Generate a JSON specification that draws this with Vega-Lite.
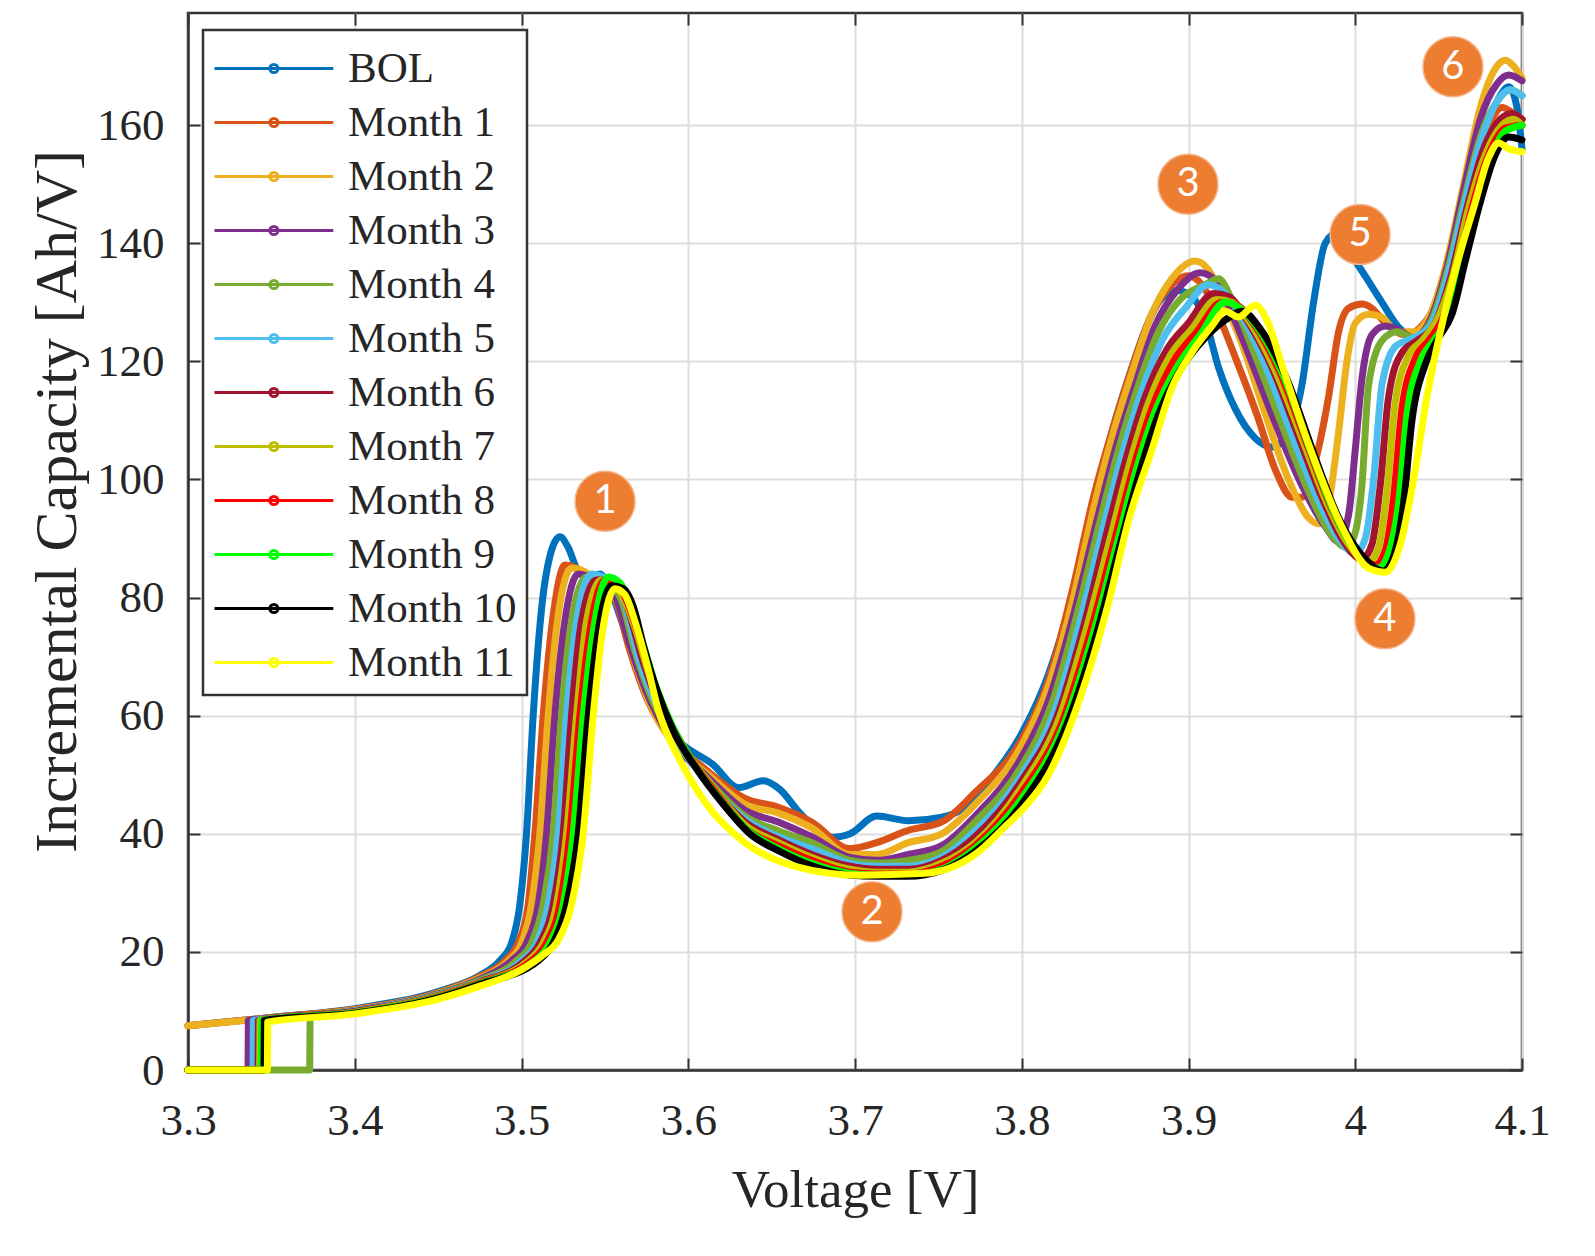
{
  "$schema": "https://vega.github.io/schema/vega-lite/v6.json",
  "width": 1334,
  "height": 1057,
  "autosize": "none",
  "padding": {"left": 188, "top": 13, "right": 73, "bottom": 186},
  "background": "white",
  "datasets": {
    "ic": [
      {"s":"BOL","v":3.3,"c":7.5},{"s":"BOL","v":3.35,"c":8.9},{"s":"BOL","v":3.4,"c":10.4},{"s":"BOL","v":3.45,"c":13.3},{"s":"BOL","v":3.475,"c":16},{"s":"BOL","v":3.487,"c":18.5},{"s":"BOL","v":3.494,"c":21.5},{"s":"BOL","v":3.499,"c":28},{"s":"BOL","v":3.503,"c":40},{"s":"BOL","v":3.507,"c":60},{"s":"BOL","v":3.512,"c":78},{"s":"BOL","v":3.518,"c":88},{"s":"BOL","v":3.523,"c":90.3},{"s":"BOL","v":3.528,"c":88.5},{"s":"BOL","v":3.534,"c":84.5},{"s":"BOL","v":3.541,"c":83.5},{"s":"BOL","v":3.547,"c":84},{"s":"BOL","v":3.553,"c":81.5},{"s":"BOL","v":3.56,"c":76},{"s":"BOL","v":3.57,"c":67},{"s":"BOL","v":3.58,"c":60.5},{"s":"BOL","v":3.595,"c":55.5},{"s":"BOL","v":3.615,"c":51.7},{"s":"BOL","v":3.63,"c":47.8},{"s":"BOL","v":3.645,"c":49},{"s":"BOL","v":3.655,"c":47.5},{"s":"BOL","v":3.667,"c":43.5},{"s":"BOL","v":3.687,"c":39.4},{"s":"BOL","v":3.697,"c":40},{"s":"BOL","v":3.713,"c":43},{"s":"BOL","v":3.732,"c":42.2},{"s":"BOL","v":3.752,"c":42.8},{"s":"BOL","v":3.766,"c":44.5},{"s":"BOL","v":3.782,"c":49.5},{"s":"BOL","v":3.8,"c":57},{"s":"BOL","v":3.816,"c":67},{"s":"BOL","v":3.83,"c":80},{"s":"BOL","v":3.843,"c":96},{"s":"BOL","v":3.855,"c":109},{"s":"BOL","v":3.865,"c":118},{"s":"BOL","v":3.875,"c":126},{"s":"BOL","v":3.882,"c":130},{"s":"BOL","v":3.893,"c":132},{"s":"BOL","v":3.902,"c":131},{"s":"BOL","v":3.91,"c":127},{"s":"BOL","v":3.918,"c":119},{"s":"BOL","v":3.928,"c":112},{"s":"BOL","v":3.94,"c":107},{"s":"BOL","v":3.95,"c":105.5},{"s":"BOL","v":3.96,"c":108},{"s":"BOL","v":3.968,"c":116},{"s":"BOL","v":3.975,"c":130},{"s":"BOL","v":3.982,"c":140},{"s":"BOL","v":3.99,"c":142},{"s":"BOL","v":3.998,"c":138},{"s":"BOL","v":4.007,"c":134},{"s":"BOL","v":4.016,"c":130},{"s":"BOL","v":4.027,"c":125.5},{"s":"BOL","v":4.035,"c":124.5},{"s":"BOL","v":4.045,"c":127},{"s":"BOL","v":4.055,"c":135},{"s":"BOL","v":4.065,"c":145},{"s":"BOL","v":4.075,"c":156},{"s":"BOL","v":4.085,"c":164},{"s":"BOL","v":4.092,"c":166.5},{"s":"BOL","v":4.097,"c":163},{"s":"BOL","v":4.1,"c":156},

      {"s":"Month 1","v":3.3,"c":7.5},{"s":"Month 1","v":3.35,"c":8.9},{"s":"Month 1","v":3.4,"c":10.3},{"s":"Month 1","v":3.45,"c":13.1},{"s":"Month 1","v":3.475,"c":15.8},{"s":"Month 1","v":3.49,"c":18.5},{"s":"Month 1","v":3.498,"c":21.5},{"s":"Month 1","v":3.504,"c":28},{"s":"Month 1","v":3.508,"c":40},{"s":"Month 1","v":3.513,"c":60},{"s":"Month 1","v":3.519,"c":77},{"s":"Month 1","v":3.526,"c":85.5},{"s":"Month 1","v":3.533,"c":85},{"s":"Month 1","v":3.54,"c":83.5},{"s":"Month 1","v":3.548,"c":83},{"s":"Month 1","v":3.556,"c":80},{"s":"Month 1","v":3.565,"c":71},{"s":"Month 1","v":3.575,"c":63},{"s":"Month 1","v":3.59,"c":56},{"s":"Month 1","v":3.61,"c":51},{"s":"Month 1","v":3.634,"c":46},{"s":"Month 1","v":3.654,"c":44.5},{"s":"Month 1","v":3.674,"c":42},{"s":"Month 1","v":3.697,"c":37.5},{"s":"Month 1","v":3.713,"c":38.5},{"s":"Month 1","v":3.732,"c":40.6},{"s":"Month 1","v":3.752,"c":42},{"s":"Month 1","v":3.772,"c":47},{"s":"Month 1","v":3.8,"c":56},{"s":"Month 1","v":3.816,"c":66},{"s":"Month 1","v":3.831,"c":82},{"s":"Month 1","v":3.843,"c":97},{"s":"Month 1","v":3.855,"c":109},{"s":"Month 1","v":3.865,"c":118},{"s":"Month 1","v":3.878,"c":128},{"s":"Month 1","v":3.89,"c":133},{"s":"Month 1","v":3.9,"c":134.5},{"s":"Month 1","v":3.908,"c":133},{"s":"Month 1","v":3.916,"c":129},{"s":"Month 1","v":3.929,"c":120},{"s":"Month 1","v":3.941,"c":111},{"s":"Month 1","v":3.953,"c":101},{"s":"Month 1","v":3.962,"c":97},{"s":"Month 1","v":3.968,"c":97},{"s":"Month 1","v":3.975,"c":102},{"s":"Month 1","v":3.984,"c":114},{"s":"Month 1","v":3.99,"c":125},{"s":"Month 1","v":3.996,"c":129},{"s":"Month 1","v":4.004,"c":129.7},{"s":"Month 1","v":4.01,"c":129},{"s":"Month 1","v":4.018,"c":126.5},{"s":"Month 1","v":4.03,"c":124.5},{"s":"Month 1","v":4.04,"c":126},{"s":"Month 1","v":4.05,"c":131},{"s":"Month 1","v":4.06,"c":141},{"s":"Month 1","v":4.07,"c":153},{"s":"Month 1","v":4.08,"c":160},{"s":"Month 1","v":4.088,"c":163},{"s":"Month 1","v":4.095,"c":162},{"s":"Month 1","v":4.1,"c":161},

      {"s":"Month 2","v":3.3,"c":7.5},{"s":"Month 2","v":3.35,"c":8.8},{"s":"Month 2","v":3.4,"c":10.2},{"s":"Month 2","v":3.45,"c":13},{"s":"Month 2","v":3.475,"c":15.6},{"s":"Month 2","v":3.492,"c":18.5},{"s":"Month 2","v":3.5,"c":21.5},{"s":"Month 2","v":3.506,"c":28},{"s":"Month 2","v":3.511,"c":40},{"s":"Month 2","v":3.516,"c":60},{"s":"Month 2","v":3.522,"c":77},{"s":"Month 2","v":3.53,"c":85},{"s":"Month 2","v":3.537,"c":84.5},{"s":"Month 2","v":3.545,"c":83},{"s":"Month 2","v":3.552,"c":82},{"s":"Month 2","v":3.558,"c":79},{"s":"Month 2","v":3.567,"c":70},{"s":"Month 2","v":3.577,"c":62},{"s":"Month 2","v":3.592,"c":55},{"s":"Month 2","v":3.612,"c":50},{"s":"Month 2","v":3.634,"c":45},{"s":"Month 2","v":3.654,"c":43.5},{"s":"Month 2","v":3.674,"c":41},{"s":"Month 2","v":3.697,"c":36.5},{"s":"Month 2","v":3.713,"c":36.5},{"s":"Month 2","v":3.732,"c":38.5},{"s":"Month 2","v":3.752,"c":40},{"s":"Month 2","v":3.772,"c":45},{"s":"Month 2","v":3.8,"c":55},{"s":"Month 2","v":3.816,"c":65},{"s":"Month 2","v":3.831,"c":80},{"s":"Month 2","v":3.843,"c":95},{"s":"Month 2","v":3.855,"c":108},{"s":"Month 2","v":3.866,"c":118},{"s":"Month 2","v":3.878,"c":128},{"s":"Month 2","v":3.89,"c":134},{"s":"Month 2","v":3.904,"c":137},{"s":"Month 2","v":3.912,"c":135.5},{"s":"Month 2","v":3.92,"c":131},{"s":"Month 2","v":3.932,"c":123},{"s":"Month 2","v":3.945,"c":112},{"s":"Month 2","v":3.96,"c":100},{"s":"Month 2","v":3.972,"c":93.5},{"s":"Month 2","v":3.978,"c":92.5},{"s":"Month 2","v":3.984,"c":96},{"s":"Month 2","v":3.99,"c":108},{"s":"Month 2","v":3.995,"c":120},{"s":"Month 2","v":4.0,"c":126.5},{"s":"Month 2","v":4.008,"c":128},{"s":"Month 2","v":4.016,"c":127.5},{"s":"Month 2","v":4.025,"c":125},{"s":"Month 2","v":4.035,"c":125},{"s":"Month 2","v":4.045,"c":128},{"s":"Month 2","v":4.055,"c":137},{"s":"Month 2","v":4.065,"c":150},{"s":"Month 2","v":4.075,"c":163},{"s":"Month 2","v":4.085,"c":170},{"s":"Month 2","v":4.09,"c":171},{"s":"Month 2","v":4.095,"c":170},{"s":"Month 2","v":4.1,"c":168},

      {"s":"Month 3","v":3.3,"c":0},{"s":"Month 3","v":3.336,"c":0},{"s":"Month 3","v":3.3362,"c":8.4},{"s":"Month 3","v":3.35,"c":8.8},{"s":"Month 3","v":3.4,"c":10.1},{"s":"Month 3","v":3.45,"c":12.9},{"s":"Month 3","v":3.475,"c":15.4},{"s":"Month 3","v":3.494,"c":18.5},{"s":"Month 3","v":3.503,"c":21.5},{"s":"Month 3","v":3.51,"c":28},{"s":"Month 3","v":3.515,"c":40},{"s":"Month 3","v":3.52,"c":60},{"s":"Month 3","v":3.526,"c":76},{"s":"Month 3","v":3.534,"c":84},{"s":"Month 3","v":3.541,"c":83.5},{"s":"Month 3","v":3.549,"c":82.5},{"s":"Month 3","v":3.556,"c":80.5},{"s":"Month 3","v":3.565,"c":72},{"s":"Month 3","v":3.575,"c":64},{"s":"Month 3","v":3.59,"c":56},{"s":"Month 3","v":3.612,"c":49.5},{"s":"Month 3","v":3.634,"c":44},{"s":"Month 3","v":3.654,"c":42},{"s":"Month 3","v":3.674,"c":39.5},{"s":"Month 3","v":3.697,"c":36},{"s":"Month 3","v":3.713,"c":35.5},{"s":"Month 3","v":3.732,"c":36.5},{"s":"Month 3","v":3.752,"c":38},{"s":"Month 3","v":3.772,"c":43},{"s":"Month 3","v":3.8,"c":53},{"s":"Month 3","v":3.816,"c":62.5},{"s":"Month 3","v":3.831,"c":77},{"s":"Month 3","v":3.845,"c":93},{"s":"Month 3","v":3.857,"c":106},{"s":"Month 3","v":3.868,"c":116},{"s":"Month 3","v":3.88,"c":126},{"s":"Month 3","v":3.893,"c":132},{"s":"Month 3","v":3.907,"c":135},{"s":"Month 3","v":3.915,"c":134},{"s":"Month 3","v":3.923,"c":130},{"s":"Month 3","v":3.935,"c":122},{"s":"Month 3","v":3.95,"c":111},{"s":"Month 3","v":3.968,"c":99},{"s":"Month 3","v":3.982,"c":92},{"s":"Month 3","v":3.99,"c":89.5},{"s":"Month 3","v":3.996,"c":94},{"s":"Month 3","v":4.0,"c":105},{"s":"Month 3","v":4.004,"c":117},{"s":"Month 3","v":4.01,"c":124.5},{"s":"Month 3","v":4.018,"c":126},{"s":"Month 3","v":4.025,"c":125.5},{"s":"Month 3","v":4.035,"c":124},{"s":"Month 3","v":4.045,"c":127},{"s":"Month 3","v":4.055,"c":136},{"s":"Month 3","v":4.065,"c":149},{"s":"Month 3","v":4.075,"c":161},{"s":"Month 3","v":4.085,"c":167},{"s":"Month 3","v":4.092,"c":168.5},{"s":"Month 3","v":4.1,"c":167.5},

      {"s":"Month 4","v":3.3,"c":0},{"s":"Month 4","v":3.373,"c":0},{"s":"Month 4","v":3.3732,"c":9.2},{"s":"Month 4","v":3.4,"c":10},{"s":"Month 4","v":3.45,"c":12.8},{"s":"Month 4","v":3.475,"c":15.2},{"s":"Month 4","v":3.497,"c":18.5},{"s":"Month 4","v":3.506,"c":21.5},{"s":"Month 4","v":3.513,"c":28},{"s":"Month 4","v":3.519,"c":40},{"s":"Month 4","v":3.524,"c":60},{"s":"Month 4","v":3.53,"c":76},{"s":"Month 4","v":3.539,"c":83.5},{"s":"Month 4","v":3.546,"c":83.5},{"s":"Month 4","v":3.553,"c":82.5},{"s":"Month 4","v":3.56,"c":79.5},{"s":"Month 4","v":3.568,"c":71},{"s":"Month 4","v":3.578,"c":63},{"s":"Month 4","v":3.593,"c":55.5},{"s":"Month 4","v":3.612,"c":49},{"s":"Month 4","v":3.634,"c":43},{"s":"Month 4","v":3.654,"c":40.5},{"s":"Month 4","v":3.674,"c":38.5},{"s":"Month 4","v":3.697,"c":35.5},{"s":"Month 4","v":3.713,"c":35},{"s":"Month 4","v":3.732,"c":35.5},{"s":"Month 4","v":3.752,"c":37},{"s":"Month 4","v":3.772,"c":42},{"s":"Month 4","v":3.8,"c":51.5},{"s":"Month 4","v":3.818,"c":62},{"s":"Month 4","v":3.833,"c":77},{"s":"Month 4","v":3.847,"c":93},{"s":"Month 4","v":3.859,"c":106},{"s":"Month 4","v":3.87,"c":116},{"s":"Month 4","v":3.882,"c":125},{"s":"Month 4","v":3.895,"c":130.5},{"s":"Month 4","v":3.91,"c":133},{"s":"Month 4","v":3.918,"c":134},{"s":"Month 4","v":3.926,"c":130.5},{"s":"Month 4","v":3.94,"c":121},{"s":"Month 4","v":3.955,"c":110},{"s":"Month 4","v":3.972,"c":98},{"s":"Month 4","v":3.986,"c":90.5},{"s":"Month 4","v":3.995,"c":88.5},{"s":"Month 4","v":4.0,"c":91},{"s":"Month 4","v":4.004,"c":99},{"s":"Month 4","v":4.008,"c":116},{"s":"Month 4","v":4.016,"c":123.5},{"s":"Month 4","v":4.025,"c":125},{"s":"Month 4","v":4.035,"c":124},{"s":"Month 4","v":4.045,"c":126.5},{"s":"Month 4","v":4.055,"c":135},{"s":"Month 4","v":4.065,"c":147},{"s":"Month 4","v":4.075,"c":158},{"s":"Month 4","v":4.085,"c":164},{"s":"Month 4","v":4.093,"c":166},{"s":"Month 4","v":4.1,"c":165},

      {"s":"Month 5","v":3.3,"c":0},{"s":"Month 5","v":3.339,"c":0},{"s":"Month 5","v":3.3392,"c":8.4},{"s":"Month 5","v":3.35,"c":8.7},{"s":"Month 5","v":3.4,"c":10},{"s":"Month 5","v":3.45,"c":12.7},{"s":"Month 5","v":3.475,"c":15},{"s":"Month 5","v":3.5,"c":18.5},{"s":"Month 5","v":3.509,"c":21.5},{"s":"Month 5","v":3.516,"c":28},{"s":"Month 5","v":3.522,"c":40},{"s":"Month 5","v":3.527,"c":60},{"s":"Month 5","v":3.533,"c":76},{"s":"Month 5","v":3.542,"c":84},{"s":"Month 5","v":3.549,"c":83.5},{"s":"Month 5","v":3.556,"c":82.5},{"s":"Month 5","v":3.562,"c":79},{"s":"Month 5","v":3.57,"c":70},{"s":"Month 5","v":3.58,"c":62.5},{"s":"Month 5","v":3.595,"c":55},{"s":"Month 5","v":3.612,"c":48.5},{"s":"Month 5","v":3.634,"c":42.5},{"s":"Month 5","v":3.654,"c":39.5},{"s":"Month 5","v":3.674,"c":37.5},{"s":"Month 5","v":3.697,"c":35},{"s":"Month 5","v":3.713,"c":34.5},{"s":"Month 5","v":3.732,"c":34.5},{"s":"Month 5","v":3.752,"c":36},{"s":"Month 5","v":3.772,"c":40.5},{"s":"Month 5","v":3.8,"c":50},{"s":"Month 5","v":3.82,"c":61},{"s":"Month 5","v":3.835,"c":76},{"s":"Month 5","v":3.849,"c":92},{"s":"Month 5","v":3.861,"c":105},{"s":"Month 5","v":3.872,"c":115},{"s":"Month 5","v":3.885,"c":124},{"s":"Month 5","v":3.898,"c":129},{"s":"Month 5","v":3.912,"c":133},{"s":"Month 5","v":3.92,"c":132},{"s":"Month 5","v":3.93,"c":128.5},{"s":"Month 5","v":3.945,"c":120},{"s":"Month 5","v":3.96,"c":109},{"s":"Month 5","v":3.977,"c":97},{"s":"Month 5","v":3.99,"c":90},{"s":"Month 5","v":4.0,"c":87.5},{"s":"Month 5","v":4.006,"c":90},{"s":"Month 5","v":4.011,"c":100},{"s":"Month 5","v":4.016,"c":116},{"s":"Month 5","v":4.024,"c":122.5},{"s":"Month 5","v":4.035,"c":124},{"s":"Month 5","v":4.045,"c":126},{"s":"Month 5","v":4.055,"c":134},{"s":"Month 5","v":4.065,"c":146},{"s":"Month 5","v":4.075,"c":157},{"s":"Month 5","v":4.085,"c":164},{"s":"Month 5","v":4.093,"c":166},{"s":"Month 5","v":4.1,"c":165},

      {"s":"Month 6","v":3.3,"c":0},{"s":"Month 6","v":3.342,"c":0},{"s":"Month 6","v":3.3422,"c":8.4},{"s":"Month 6","v":3.4,"c":9.9},{"s":"Month 6","v":3.45,"c":12.6},{"s":"Month 6","v":3.475,"c":14.9},{"s":"Month 6","v":3.502,"c":18.5},{"s":"Month 6","v":3.511,"c":21.5},{"s":"Month 6","v":3.519,"c":28},{"s":"Month 6","v":3.525,"c":40},{"s":"Month 6","v":3.53,"c":60},{"s":"Month 6","v":3.536,"c":76},{"s":"Month 6","v":3.545,"c":83},{"s":"Month 6","v":3.552,"c":83},{"s":"Month 6","v":3.559,"c":81.5},{"s":"Month 6","v":3.565,"c":77},{"s":"Month 6","v":3.573,"c":69},{"s":"Month 6","v":3.583,"c":61.5},{"s":"Month 6","v":3.597,"c":54.5},{"s":"Month 6","v":3.614,"c":48},{"s":"Month 6","v":3.634,"c":42},{"s":"Month 6","v":3.654,"c":39},{"s":"Month 6","v":3.674,"c":36.5},{"s":"Month 6","v":3.697,"c":34.5},{"s":"Month 6","v":3.713,"c":34},{"s":"Month 6","v":3.732,"c":34},{"s":"Month 6","v":3.752,"c":35.5},{"s":"Month 6","v":3.772,"c":39.5},{"s":"Month 6","v":3.8,"c":49},{"s":"Month 6","v":3.822,"c":60.5},{"s":"Month 6","v":3.837,"c":75},{"s":"Month 6","v":3.851,"c":91},{"s":"Month 6","v":3.863,"c":104},{"s":"Month 6","v":3.874,"c":114},{"s":"Month 6","v":3.887,"c":122},{"s":"Month 6","v":3.9,"c":126.5},{"s":"Month 6","v":3.915,"c":131.5},{"s":"Month 6","v":3.924,"c":131},{"s":"Month 6","v":3.935,"c":127},{"s":"Month 6","v":3.95,"c":119},{"s":"Month 6","v":3.965,"c":108},{"s":"Month 6","v":3.98,"c":97},{"s":"Month 6","v":3.993,"c":89.5},{"s":"Month 6","v":4.004,"c":86.5},{"s":"Month 6","v":4.01,"c":89},{"s":"Month 6","v":4.015,"c":99},{"s":"Month 6","v":4.02,"c":114},{"s":"Month 6","v":4.028,"c":121.5},{"s":"Month 6","v":4.037,"c":123.5},{"s":"Month 6","v":4.047,"c":126},{"s":"Month 6","v":4.057,"c":134},{"s":"Month 6","v":4.067,"c":146},{"s":"Month 6","v":4.077,"c":156},{"s":"Month 6","v":4.087,"c":161},{"s":"Month 6","v":4.094,"c":162},{"s":"Month 6","v":4.1,"c":161},

      {"s":"Month 7","v":3.3,"c":0},{"s":"Month 7","v":3.343,"c":0},{"s":"Month 7","v":3.3432,"c":8.4},{"s":"Month 7","v":3.4,"c":9.8},{"s":"Month 7","v":3.45,"c":12.5},{"s":"Month 7","v":3.475,"c":14.8},{"s":"Month 7","v":3.504,"c":18.5},{"s":"Month 7","v":3.513,"c":21.5},{"s":"Month 7","v":3.521,"c":28},{"s":"Month 7","v":3.527,"c":40},{"s":"Month 7","v":3.533,"c":60},{"s":"Month 7","v":3.539,"c":76},{"s":"Month 7","v":3.548,"c":83},{"s":"Month 7","v":3.555,"c":82.5},{"s":"Month 7","v":3.561,"c":80},{"s":"Month 7","v":3.568,"c":75},{"s":"Month 7","v":3.576,"c":67.5},{"s":"Month 7","v":3.586,"c":60.5},{"s":"Month 7","v":3.6,"c":53.5},{"s":"Month 7","v":3.616,"c":47.5},{"s":"Month 7","v":3.634,"c":41.5},{"s":"Month 7","v":3.654,"c":38.5},{"s":"Month 7","v":3.674,"c":36},{"s":"Month 7","v":3.697,"c":34},{"s":"Month 7","v":3.713,"c":33.5},{"s":"Month 7","v":3.732,"c":33.5},{"s":"Month 7","v":3.752,"c":35},{"s":"Month 7","v":3.772,"c":38.5},{"s":"Month 7","v":3.8,"c":48},{"s":"Month 7","v":3.823,"c":60},{"s":"Month 7","v":3.839,"c":75},{"s":"Month 7","v":3.853,"c":90},{"s":"Month 7","v":3.865,"c":103},{"s":"Month 7","v":3.876,"c":113},{"s":"Month 7","v":3.889,"c":121},{"s":"Month 7","v":3.902,"c":125.5},{"s":"Month 7","v":3.917,"c":130.5},{"s":"Month 7","v":3.926,"c":130},{"s":"Month 7","v":3.937,"c":126.5},{"s":"Month 7","v":3.952,"c":118.5},{"s":"Month 7","v":3.968,"c":107},{"s":"Month 7","v":3.983,"c":96},{"s":"Month 7","v":3.996,"c":89},{"s":"Month 7","v":4.008,"c":86},{"s":"Month 7","v":4.014,"c":88.5},{"s":"Month 7","v":4.019,"c":98},{"s":"Month 7","v":4.024,"c":113},{"s":"Month 7","v":4.032,"c":121},{"s":"Month 7","v":4.04,"c":123.5},{"s":"Month 7","v":4.049,"c":127},{"s":"Month 7","v":4.058,"c":134},{"s":"Month 7","v":4.068,"c":146},{"s":"Month 7","v":4.078,"c":155},{"s":"Month 7","v":4.088,"c":160},{"s":"Month 7","v":4.095,"c":161},{"s":"Month 7","v":4.1,"c":160},

      {"s":"Month 8","v":3.3,"c":0},{"s":"Month 8","v":3.345,"c":0},{"s":"Month 8","v":3.3452,"c":8.4},{"s":"Month 8","v":3.4,"c":9.7},{"s":"Month 8","v":3.45,"c":12.4},{"s":"Month 8","v":3.475,"c":14.7},{"s":"Month 8","v":3.506,"c":18.5},{"s":"Month 8","v":3.515,"c":21.5},{"s":"Month 8","v":3.523,"c":28},{"s":"Month 8","v":3.529,"c":40},{"s":"Month 8","v":3.535,"c":60},{"s":"Month 8","v":3.542,"c":76},{"s":"Month 8","v":3.55,"c":83},{"s":"Month 8","v":3.557,"c":82.5},{"s":"Month 8","v":3.563,"c":79.5},{"s":"Month 8","v":3.57,"c":74},{"s":"Month 8","v":3.578,"c":66.5},{"s":"Month 8","v":3.588,"c":59.5},{"s":"Month 8","v":3.602,"c":52.5},{"s":"Month 8","v":3.618,"c":46.5},{"s":"Month 8","v":3.634,"c":41},{"s":"Month 8","v":3.654,"c":38},{"s":"Month 8","v":3.674,"c":35.5},{"s":"Month 8","v":3.697,"c":33.5},{"s":"Month 8","v":3.713,"c":33.2},{"s":"Month 8","v":3.732,"c":33.2},{"s":"Month 8","v":3.752,"c":34.5},{"s":"Month 8","v":3.772,"c":38},{"s":"Month 8","v":3.8,"c":47},{"s":"Month 8","v":3.825,"c":59.5},{"s":"Month 8","v":3.841,"c":74},{"s":"Month 8","v":3.855,"c":89},{"s":"Month 8","v":3.867,"c":102},{"s":"Month 8","v":3.878,"c":112},{"s":"Month 8","v":3.891,"c":120},{"s":"Month 8","v":3.905,"c":125},{"s":"Month 8","v":3.92,"c":130},{"s":"Month 8","v":3.929,"c":129.5},{"s":"Month 8","v":3.94,"c":126},{"s":"Month 8","v":3.955,"c":118},{"s":"Month 8","v":3.971,"c":106},{"s":"Month 8","v":3.986,"c":95},{"s":"Month 8","v":3.999,"c":88.5},{"s":"Month 8","v":4.012,"c":85.5},{"s":"Month 8","v":4.018,"c":88},{"s":"Month 8","v":4.023,"c":97},{"s":"Month 8","v":4.028,"c":112},{"s":"Month 8","v":4.036,"c":120.5},{"s":"Month 8","v":4.044,"c":123.5},{"s":"Month 8","v":4.052,"c":127},{"s":"Month 8","v":4.06,"c":134},{"s":"Month 8","v":4.07,"c":146},{"s":"Month 8","v":4.08,"c":155},{"s":"Month 8","v":4.09,"c":159.5},{"s":"Month 8","v":4.1,"c":160},

      {"s":"Month 9","v":3.3,"c":0},{"s":"Month 9","v":3.344,"c":0},{"s":"Month 9","v":3.3442,"c":8.4},{"s":"Month 9","v":3.4,"c":9.7},{"s":"Month 9","v":3.45,"c":12.3},{"s":"Month 9","v":3.475,"c":14.6},{"s":"Month 9","v":3.508,"c":18.5},{"s":"Month 9","v":3.517,"c":21.5},{"s":"Month 9","v":3.525,"c":28},{"s":"Month 9","v":3.531,"c":40},{"s":"Month 9","v":3.537,"c":60},{"s":"Month 9","v":3.544,"c":76},{"s":"Month 9","v":3.552,"c":83.5},{"s":"Month 9","v":3.559,"c":82.5},{"s":"Month 9","v":3.565,"c":79},{"s":"Month 9","v":3.572,"c":73},{"s":"Month 9","v":3.58,"c":65.5},{"s":"Month 9","v":3.59,"c":58.5},{"s":"Month 9","v":3.604,"c":51.5},{"s":"Month 9","v":3.62,"c":45.5},{"s":"Month 9","v":3.636,"c":40.5},{"s":"Month 9","v":3.654,"c":37.5},{"s":"Month 9","v":3.674,"c":35},{"s":"Month 9","v":3.697,"c":33.3},{"s":"Month 9","v":3.713,"c":33},{"s":"Month 9","v":3.732,"c":33},{"s":"Month 9","v":3.752,"c":34},{"s":"Month 9","v":3.772,"c":37.5},{"s":"Month 9","v":3.8,"c":46},{"s":"Month 9","v":3.826,"c":59},{"s":"Month 9","v":3.843,"c":74},{"s":"Month 9","v":3.857,"c":89},{"s":"Month 9","v":3.869,"c":102},{"s":"Month 9","v":3.88,"c":111.5},{"s":"Month 9","v":3.893,"c":119},{"s":"Month 9","v":3.907,"c":124.5},{"s":"Month 9","v":3.922,"c":130},{"s":"Month 9","v":3.931,"c":129},{"s":"Month 9","v":3.942,"c":125.5},{"s":"Month 9","v":3.957,"c":117.5},{"s":"Month 9","v":3.973,"c":105},{"s":"Month 9","v":3.988,"c":94},{"s":"Month 9","v":4.0,"c":88},{"s":"Month 9","v":4.014,"c":85},{"s":"Month 9","v":4.02,"c":87.5},{"s":"Month 9","v":4.026,"c":96},{"s":"Month 9","v":4.031,"c":111},{"s":"Month 9","v":4.039,"c":120},{"s":"Month 9","v":4.047,"c":123.5},{"s":"Month 9","v":4.055,"c":127},{"s":"Month 9","v":4.063,"c":135},{"s":"Month 9","v":4.072,"c":146},{"s":"Month 9","v":4.082,"c":155},{"s":"Month 9","v":4.09,"c":159},{"s":"Month 9","v":4.1,"c":160},

      {"s":"Month 10","v":3.3,"c":0},{"s":"Month 10","v":3.3456,"c":0},{"s":"Month 10","v":3.3458,"c":8.4},{"s":"Month 10","v":3.4,"c":9.6},{"s":"Month 10","v":3.45,"c":12.2},{"s":"Month 10","v":3.475,"c":14.5},{"s":"Month 10","v":3.51,"c":18.5},{"s":"Month 10","v":3.519,"c":21.5},{"s":"Month 10","v":3.527,"c":28},{"s":"Month 10","v":3.534,"c":40},{"s":"Month 10","v":3.54,"c":60},{"s":"Month 10","v":3.547,"c":76},{"s":"Month 10","v":3.554,"c":82},{"s":"Month 10","v":3.561,"c":81.5},{"s":"Month 10","v":3.567,"c":78.5},{"s":"Month 10","v":3.573,"c":72},{"s":"Month 10","v":3.581,"c":64.5},{"s":"Month 10","v":3.591,"c":57.5},{"s":"Month 10","v":3.605,"c":51},{"s":"Month 10","v":3.621,"c":45},{"s":"Month 10","v":3.637,"c":40},{"s":"Month 10","v":3.655,"c":37},{"s":"Month 10","v":3.675,"c":34.5},{"s":"Month 10","v":3.697,"c":33},{"s":"Month 10","v":3.713,"c":32.8},{"s":"Month 10","v":3.732,"c":32.8},{"s":"Month 10","v":3.752,"c":33.8},{"s":"Month 10","v":3.772,"c":37},{"s":"Month 10","v":3.8,"c":45},{"s":"Month 10","v":3.827,"c":58.5},{"s":"Month 10","v":3.845,"c":74},{"s":"Month 10","v":3.859,"c":89},{"s":"Month 10","v":3.871,"c":101.5},{"s":"Month 10","v":3.882,"c":111},{"s":"Month 10","v":3.895,"c":118.5},{"s":"Month 10","v":3.91,"c":124},{"s":"Month 10","v":3.922,"c":127},{"s":"Month 10","v":3.932,"c":128.5},{"s":"Month 10","v":3.943,"c":125.5},{"s":"Month 10","v":3.959,"c":117},{"s":"Month 10","v":3.975,"c":104.5},{"s":"Month 10","v":3.99,"c":93.5},{"s":"Month 10","v":4.003,"c":87.5},{"s":"Month 10","v":4.017,"c":84.5},{"s":"Month 10","v":4.023,"c":87},{"s":"Month 10","v":4.029,"c":96},{"s":"Month 10","v":4.034,"c":110},{"s":"Month 10","v":4.042,"c":119.5},{"s":"Month 10","v":4.05,"c":124},{"s":"Month 10","v":4.058,"c":128},{"s":"Month 10","v":4.066,"c":137},{"s":"Month 10","v":4.075,"c":147},{"s":"Month 10","v":4.084,"c":155},{"s":"Month 10","v":4.092,"c":158},{"s":"Month 10","v":4.1,"c":157.5},

      {"s":"Month 11","v":3.3,"c":0},{"s":"Month 11","v":3.3476,"c":0},{"s":"Month 11","v":3.3478,"c":8.1},{"s":"Month 11","v":3.4,"c":9.5},{"s":"Month 11","v":3.45,"c":12},{"s":"Month 11","v":3.475,"c":14.2},{"s":"Month 11","v":3.5,"c":17},{"s":"Month 11","v":3.513,"c":19.5},{"s":"Month 11","v":3.522,"c":22},{"s":"Month 11","v":3.53,"c":28},{"s":"Month 11","v":3.537,"c":40},{"s":"Month 11","v":3.543,"c":60},{"s":"Month 11","v":3.549,"c":75},{"s":"Month 11","v":3.556,"c":81.5},{"s":"Month 11","v":3.562,"c":80.5},{"s":"Month 11","v":3.568,"c":76},{"s":"Month 11","v":3.575,"c":69},{"s":"Month 11","v":3.582,"c":61},{"s":"Month 11","v":3.595,"c":52.5},{"s":"Month 11","v":3.611,"c":45},{"s":"Month 11","v":3.634,"c":38.5},{"s":"Month 11","v":3.664,"c":34.5},{"s":"Month 11","v":3.703,"c":33},{"s":"Month 11","v":3.742,"c":33.3},{"s":"Month 11","v":3.772,"c":36.5},{"s":"Month 11","v":3.791,"c":41.5},{"s":"Month 11","v":3.8,"c":44},{"s":"Month 11","v":3.816,"c":50},{"s":"Month 11","v":3.835,"c":63},{"s":"Month 11","v":3.851,"c":78},{"s":"Month 11","v":3.865,"c":94},{"s":"Month 11","v":3.878,"c":105},{"s":"Month 11","v":3.89,"c":115.5},{"s":"Month 11","v":3.902,"c":121.5},{"s":"Month 11","v":3.914,"c":126},{"s":"Month 11","v":3.922,"c":128.5},{"s":"Month 11","v":3.93,"c":127.5},{"s":"Month 11","v":3.94,"c":129.5},{"s":"Month 11","v":3.947,"c":127},{"s":"Month 11","v":3.957,"c":118.5},{"s":"Month 11","v":3.972,"c":106},{"s":"Month 11","v":3.992,"c":92},{"s":"Month 11","v":4.008,"c":85},{"s":"Month 11","v":4.018,"c":84.3},{"s":"Month 11","v":4.027,"c":89},{"s":"Month 11","v":4.035,"c":100},{"s":"Month 11","v":4.043,"c":114},{"s":"Month 11","v":4.051,"c":125},{"s":"Month 11","v":4.061,"c":136.5},{"s":"Month 11","v":4.071,"c":146},{"s":"Month 11","v":4.08,"c":154.5},{"s":"Month 11","v":4.086,"c":157},{"s":"Month 11","v":4.092,"c":156},{"s":"Month 11","v":4.1,"c":155.5}
    ],
    "notes": [
      {"n":"1","v":3.5501,"c":96.3},
      {"n":"2","v":3.7102,"c":26.8},
      {"n":"3","v":3.8997,"c":150.0},
      {"n":"4","v":4.0178,"c":76.4},
      {"n":"5","v":4.0029,"c":141.5},
      {"n":"6","v":4.0586,"c":169.9}
    ]
  },
  "resolve": {"axis": {"x": "independent", "y": "independent"}},
  "layer": [
    {
      "data": {"name": "ic"},
      "mark": {"type": "line", "strokeWidth": 7, "strokeJoin": "round", "strokeCap": "round", "interpolate": "monotone"},
      "encoding": {
        "x": {
          "field": "v",
          "type": "quantitative",
          "title": "Voltage [V]",
          "scale": {"domain": [3.3, 4.1], "nice": false, "zero": false},
          "axis": {
            "values": [3.3, 3.4, 3.5, 3.6, 3.7, 3.8, 3.9, 4.0, 4.1],
            "format": ".1~f",
            "labelPadding": 40,
            "labelFlush": false,
            "labelOverlap": false,
            "titleY": 136,
            "titleBaseline": "alphabetic"
          }
        },
        "y": {
          "field": "c",
          "type": "quantitative",
          "title": "Incremental Capacity [Ah/V]",
          "scale": {"domain": [0, 179], "nice": false},
          "axis": {
            "values": [0, 20, 40, 60, 80, 100, 120, 140, 160],
            "labelPadding": 36,
            "titleX": -131,
            "titleY": 488,
            "titleAngle": -90,
            "titleAlign": "center",
            "titleBaseline": "middle",
            "titleFontSize": 60
          }
        },
        "color": {
          "field": "s",
          "type": "nominal",
          "sort": null,
          "scale": {
            "domain": ["BOL", "Month 1", "Month 2", "Month 3", "Month 4", "Month 5", "Month 6", "Month 7", "Month 8", "Month 9", "Month 10", "Month 11"],
            "range": ["#0072BD", "#D95319", "#EDB120", "#7E2F8E", "#77AC30", "#4DBEEE", "#A2142F", "#BFBF00", "#FF0000", "#00FF00", "#000000", "#FFFF00"]
          },
          "legend": {
            "title": null,
            "orient": "none",
            "legendX": 15,
            "legendY": 17,
            "padding": 10,
            "rowPadding": 3,
            "fillColor": "white",
            "strokeColor": "#333333",
            "symbolType": "M-1,0H3.4M1.05,0A0.15,0.15 0 1,0 1.35,0A0.15,0.15 0 1,0 1.05,0",
            "symbolSize": 2916,
            "symbolStrokeWidth": 3,
            "labelOffset": 78,
            "labelFont": "Liberation Serif",
            "labelFontSize": 43,
            "labelColor": "#262626",
            "labelLimit": 400
          }
        }
      }
    },
    {
      "data": {"name": "notes"},
      "mark": {"type": "circle", "size": 3600, "color": "#ED7D31", "opacity": 1, "stroke": "#F6B58A", "strokeWidth": 1.5},
      "encoding": {
        "x": {
          "field": "v",
          "type": "quantitative",
          "axis": {"orient": "top", "values": [3.3, 3.4, 3.5, 3.6, 3.7, 3.8, 3.9, 4.0, 4.1], "labels": false, "title": null, "grid": false, "domain": false}
        },
        "y": {
          "field": "c",
          "type": "quantitative",
          "axis": {"orient": "right", "values": [0, 20, 40, 60, 80, 100, 120, 140, 160], "labels": false, "title": null, "grid": false, "domain": false}
        }
      }
    },
    {
      "data": {"name": "notes"},
      "mark": {"type": "text", "color": "white", "font": "Lato", "fontSize": 40, "align": "center", "baseline": "middle"},
      "encoding": {
        "x": {"field": "v", "type": "quantitative", "axis": null},
        "y": {"field": "c", "type": "quantitative", "axis": null},
        "text": {"field": "n", "type": "nominal"}
      }
    }
  ],
  "config": {
    "view": {"stroke": "#333333", "strokeWidth": 2.5},
    "legend": {"strokeWidth": 2.5},
    "axis": {
      "labelFont": "Liberation Serif",
      "labelFontSize": 45,
      "labelColor": "#262626",
      "titleFont": "Liberation Serif",
      "titleFontSize": 53,
      "titleFontWeight": "normal",
      "titleColor": "#262626",
      "tickSize": -12,
      "tickColor": "#333333",
      "tickWidth": 2,
      "domainColor": "#333333",
      "domainWidth": 2.5,
      "gridColor": "#dedede",
      "gridWidth": 2
    }
  }
}
